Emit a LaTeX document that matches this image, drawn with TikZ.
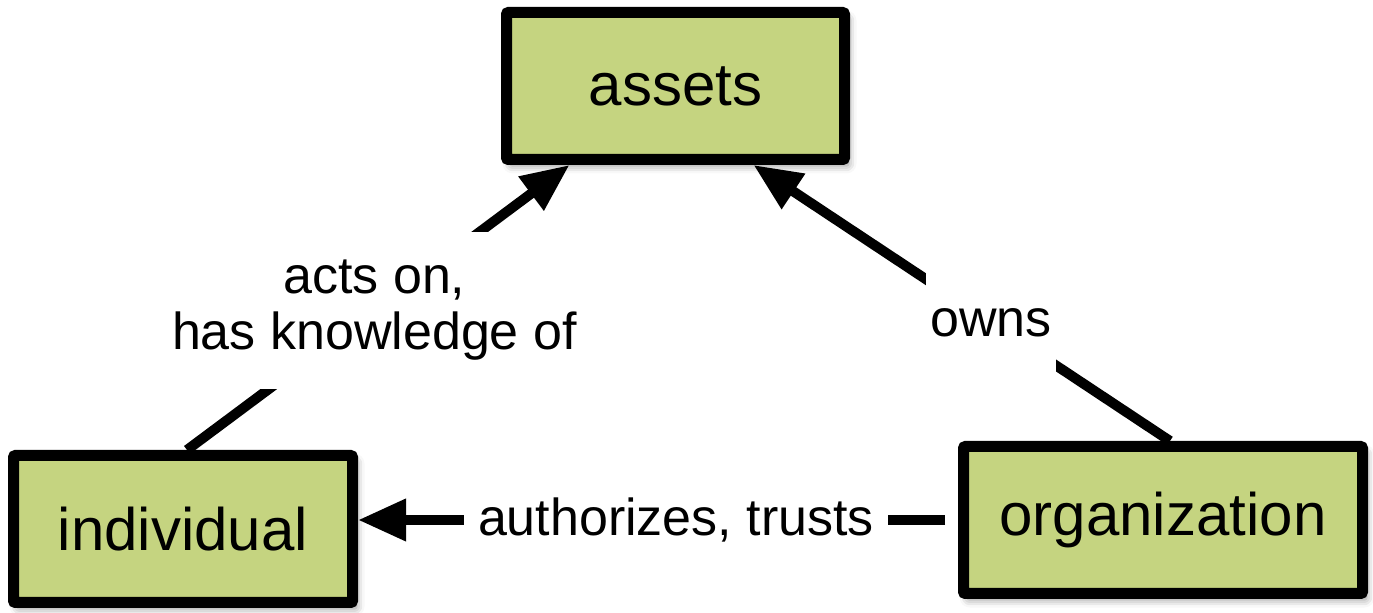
\documentclass[tikz,border=0pt]{standalone}
\usepackage{fontspec}
\setmainfont{Liberation Sans}
\usetikzlibrary{arrows.meta,calc,shadows.blur}

\definecolor{boxgreen}{RGB}{197,212,128}

\tikzstyle{box} = [draw, line width=5.5pt, fill=boxgreen, minimum height=73.5pt, rounded corners=1pt, font=\fontsize{30}{36}\selectfont, blur shadow={shadow xshift=2pt,shadow yshift=-3pt,shadow blur radius=4pt,shadow opacity=45}]
\tikzstyle{arw} = [line width=5pt, -{Triangle[length=24pt,width=20pt]}]
\tikzstyle{lbl} = [fill=white, font=\fontsize{26}{28}\selectfont, align=center, inner xsep=2pt, inner ysep=12pt]

\begin{document}
\begin{tikzpicture}[x=0.5pt,y=-0.5pt]
\useasboundingbox (0,0) rectangle (1373,613);

\node[box, minimum width=169pt] (assets) at (675.5,86) {assets};
\node[box, minimum width=169.5pt] (individual) at (183,529) {individual};
\node[box, minimum width=199.5pt] (organization) at (1163,520) {organization};

\draw[arw] ($(individual.north)+(4,0)$) --
node[lbl,pos=0.49,inner ysep=14pt] {acts on,\\has knowledge of} ($(assets.south)+(-106,0)$);
\draw[arw] ($(organization.north)+(7,0)$) --
node[lbl,pos=0.43,inner ysep=18pt] {owns} ($(assets.south)+(78,0)$);
\draw[arw, shorten <=6.5pt] (organization.west) --
node[lbl,pos=0.47,inner xsep=7pt] {authorizes, trusts} (individual.east |- organization.west);

\end{tikzpicture}
\end{document}
